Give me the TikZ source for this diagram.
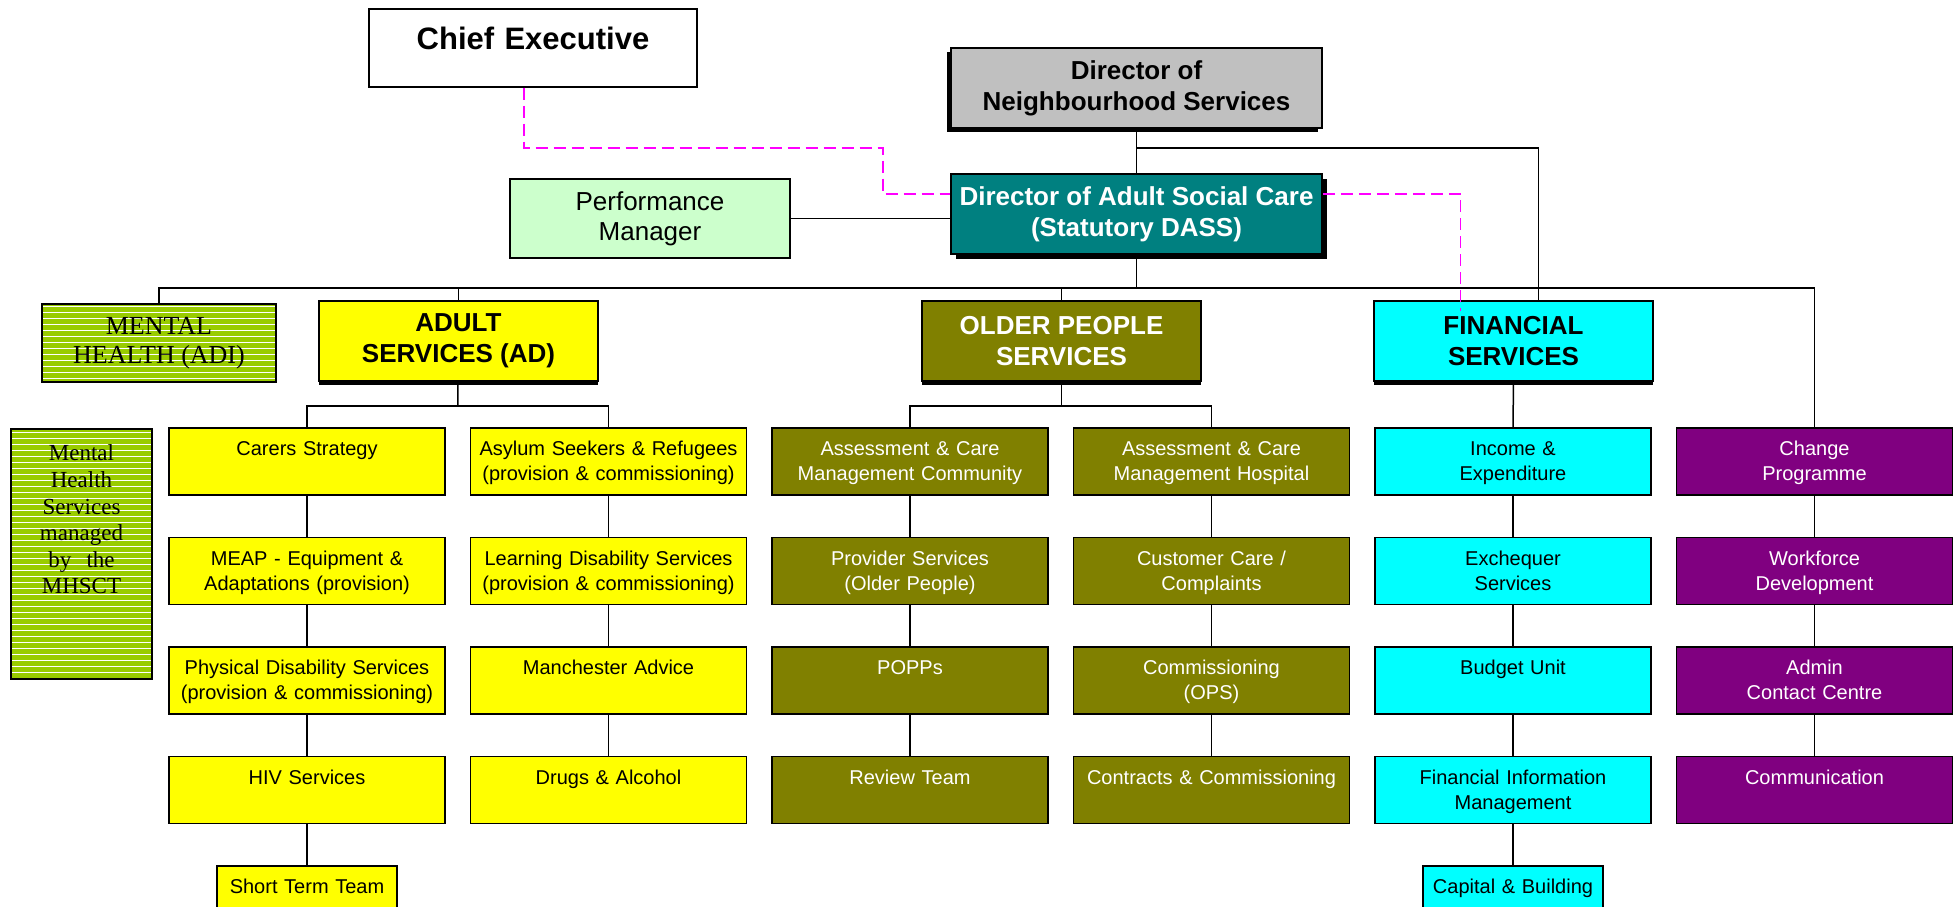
\documentclass[tikz,border=0pt]{standalone}
\usepackage{fontspec}
\setmainfont{Liberation Sans}
\newfontfamily\timesfont{Liberation Serif}
\usetikzlibrary{shadows,patterns.meta}

\definecolor{adyellow}{HTML}{FFFF00}
\definecolor{opolive}{HTML}{808000}
\definecolor{fscyan}{HTML}{00FFFF}
\definecolor{cppurple}{HTML}{800080}
\definecolor{dassteal}{HTML}{008080}
\definecolor{dnsgrey}{HTML}{C0C0C0}
\definecolor{pmgreen}{HTML}{CCFFCC}
\definecolor{mhgreen}{HTML}{99CC00}
\definecolor{linkpink}{HTML}{FF00FF}

\begin{document}
\begin{tikzpicture}[x=0.5pt,y=-0.5pt,
  unitbox/.style={draw, line width=0.8pt, anchor=north, text width=134pt, align=center, inner sep=2pt,
    text height=12pt, text depth=17.5pt, font=\fontsize{10}{12.5}\selectfont},
  smallbox/.style={unitbox, text width=86pt},
  headbox/.style={draw, line width=0.8pt, minimum width=139.5pt, minimum height=40pt, align=center,
    font=\fontsize{13}{15.5}\selectfont\bfseries},
  hshadow/.style={drop shadow={shadow xshift=0pt, shadow yshift=-1.8pt, fill=black, opacity=1}},
  stripebox/.style={preaction={fill=mhgreen}, pattern={Lines[angle=0,distance=3pt,line width=0.4pt]}, pattern color=white},
  conn/.style={line width=0.75pt},
  pinkdash/.style={linkpink, line width=0.8pt, dash pattern=on 6pt off 3pt}]

\useasboundingbox (0,0) rectangle (1955,906);

% Draw the top of the chart
\node[draw, line width=0.8pt, anchor=north, text width=160pt, align=center, inner sep=2pt, text height=18.5pt,
  text depth=16.5pt, font=\fontsize{15.5}{18}\selectfont\bfseries] (ce) at (533,8) {Chief Executive};
\node[headbox, minimum width=185.5pt, fill=dnsgrey,
  drop shadow={shadow xshift=-2pt, shadow yshift=-2pt, fill=black, opacity=1}] (dns) at (1136.5,88) {Director of\\ Neighbourhood Services};
\node[headbox, minimum width=185.5pt, fill=dassteal, text=white,
  drop shadow={shadow xshift=2.5pt, shadow yshift=-2.5pt, fill=black, opacity=1}] (dass) at (1136.5,214) {Director of Adult Social Care\\ (Statutory DASS)};
\node[draw, line width=0.8pt, fill=pmgreen, minimum width=140pt, minimum height=39.5pt, align=center,
  font=\fontsize{13}{15}\selectfont] (pm) at (650,218.5) {Performance\\ Manager};

% Draw the service heads
\node[draw, line width=0.8pt, stripebox, minimum width=117pt, minimum height=39pt, align=center,
  font=\timesfont\fontsize{13}{14.5}\selectfont] (mhadi) at (159,343) {MENTAL\\ HEALTH (ADI)};
\node[headbox, hshadow, fill=adyellow] (adult) at (458.5,341) {ADULT\\ SERVICES (AD)};
\node[headbox, hshadow, fill=opolive, text=white] (older) at (1061.5,341) {OLDER PEOPLE\\ SERVICES};
\node[headbox, hshadow, fill=fscyan] (fin) at (1513.5,341) {FINANCIAL\\ SERVICES};

\node[draw, line width=0.8pt, stripebox, anchor=north, text width=66.5pt, align=center, inner sep=2pt,
  text height=14pt, text depth=107pt, font=\timesfont\fontsize{11.5}{13.3}\selectfont] (mhs) at (81.5,428)
  {Mental\\ Health\\ Services\\ managed\\ by~~the\\ MHSCT};

% Draw the units of each service
\foreach \nm/\j/\txt in {carers/0/{Carers Strategy}, meap/1/{MEAP - Equipment \&\\ Adaptations (provision)},
    phys/2/{Physical Disability Services\\ (provision \& commissioning)}, hiv/3/{HIV Services}}
  \node[unitbox, fill=adyellow] (\nm) at (307,{427+109.5*\j}) {\txt};
\foreach \nm/\j/\txt in {asylum/0/{Asylum Seekers \& Refugees\\ (provision \& commissioning)},
    learn/1/{Learning Disability Services\\ (provision \& commissioning)}, manc/2/{Manchester Advice}, drugs/3/{Drugs \& Alcohol}}
  \node[unitbox, fill=adyellow] (\nm) at (608.5,{427+109.5*\j}) {\txt};
\foreach \nm/\j/\txt in {acmc/0/{Assessment \& Care\\ Management Community}, prov/1/{Provider Services\\ (Older People)},
    popps/2/{POPPs}, review/3/{Review Team}}
  \node[unitbox, fill=opolive, text=white] (\nm) at (910,{427+109.5*\j}) {\txt};
\foreach \nm/\j/\txt in {acmh/0/{Assessment \& Care\\ Management Hospital}, cust/1/{Customer Care /\\ Complaints},
    comm/2/{Commissioning\\ (OPS)}, contr/3/{Contracts \& Commissioning}}
  \node[unitbox, fill=opolive, text=white] (\nm) at (1211.5,{427+109.5*\j}) {\txt};
\foreach \nm/\j/\txt in {income/0/{Income \&\\ Expenditure}, exch/1/{Exchequer\\ Services},
    budget/2/{Budget Unit}, fim/3/{Financial Information\\ Management}}
  \node[unitbox, fill=fscyan] (\nm) at (1513,{427+109.5*\j}) {\txt};
\foreach \nm/\j/\txt in {change/0/{Change\\ Programme}, workf/1/{Workforce\\ Development},
    admin/2/{Admin\\ Contact Centre}, communic/3/{Communication}}
  \node[unitbox, fill=cppurple, text=white] (\nm) at (1814.5,{427+109.5*\j}) {\txt};

\node[smallbox, fill=adyellow] (short) at (307,865) {Short Term Team};
\node[smallbox, fill=fscyan] (capital) at (1513,865) {Capital \& Building};

% Draw the lines
\coordinate (tap) at (1136.5,148);
\coordinate (bus) at (1136.5,288);
\coordinate (adbus) at (457.75,406);
\coordinate (opbus) at (1061.5,406);

\draw[conn] (dns) -- (dass);
\draw[conn] (tap) -| ([xshift=12.5pt]fin.north);
\draw[conn] (pm.east) -- (pm.east -| dass.west);
\draw[conn] (dass) -- (bus);
\draw[conn] (mhadi.north) |- (bus) -| (change.north);
\draw[conn] (adult) -- (adult.north |- bus);
\draw[conn] (older) -- (older.north |- bus);

\draw[conn] (adult) -- (adbus);
\draw[conn] (carers.north) |- (adbus) -| (asylum.north);
\draw[conn] (older) -- (opbus);
\draw[conn] (acmc.north) |- (opbus) -| (acmh.north);
\draw[conn] (fin) -- (income);

\foreach \a/\b in {carers/meap, meap/phys, phys/hiv, hiv/short, asylum/learn, learn/manc, manc/drugs,
    acmc/prov, prov/popps, popps/review, acmh/cust, cust/comm, comm/contr,
    income/exch, exch/budget, budget/fim, fim/capital, change/workf, workf/admin, admin/communic}
  \draw[conn] (\a) -- (\b);

% Draw the dashed lines
\draw[pinkdash] ([xshift=-4.5pt]ce.south) |- (883,148) |- ([yshift=10pt]dass.west);
\draw[pinkdash] ([yshift=10pt]dass.east) -| ([xshift=-26.5pt,yshift=-5.5pt]fin.north);

\end{tikzpicture}
\end{document}
